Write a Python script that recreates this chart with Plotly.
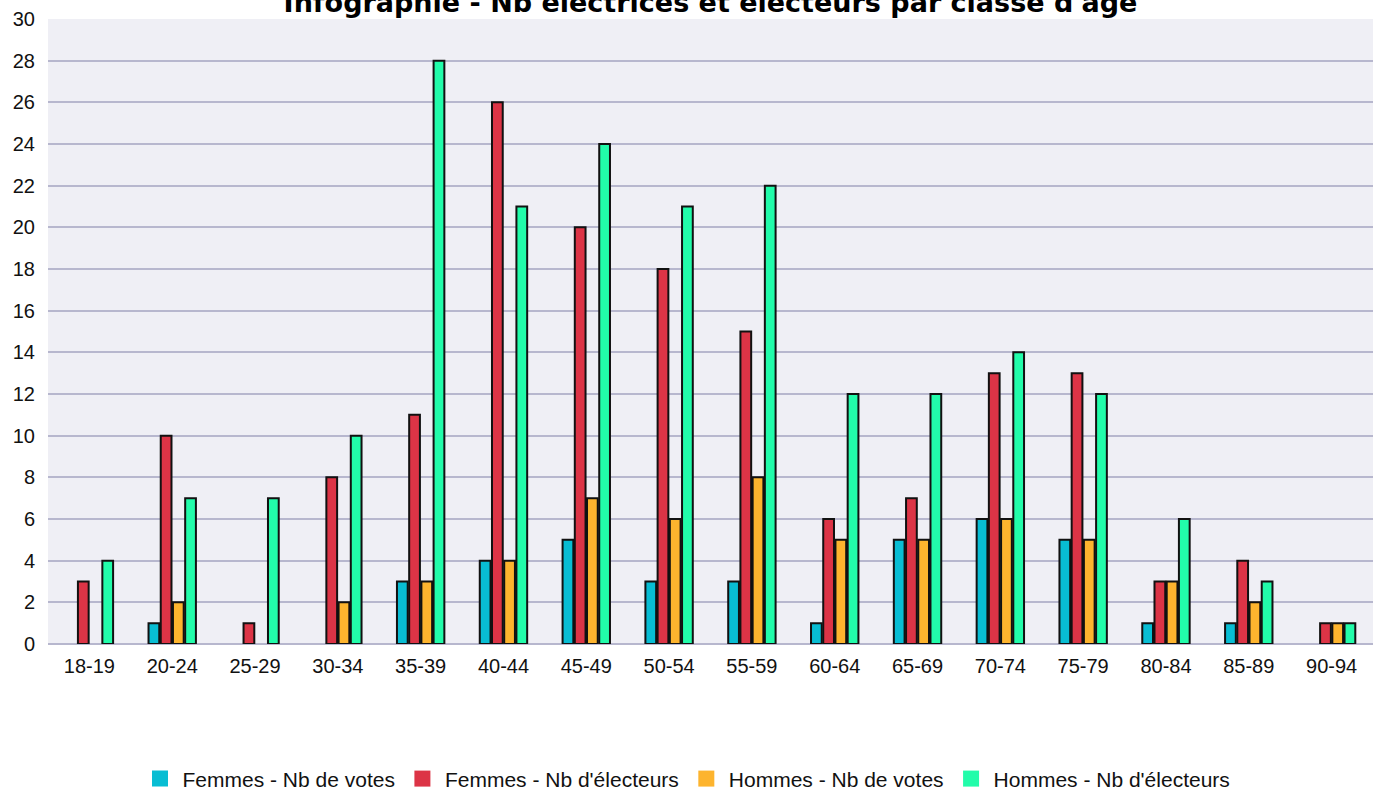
import plotly.graph_objects as go

# Age brackets
age_classes = ["18-19", "20-24", "25-29", "30-34", "35-39", "40-44", "45-49", "50-54",
               "55-59", "60-64", "65-69", "70-74", "75-79", "80-84", "85-89", "90-94"]

# Counts per bracket
femmes_votes = [0, 1, 0, 0, 3, 4, 5, 3, 3, 1, 5, 6, 5, 1, 1, 0]
femmes_electeurs = [3, 10, 1, 8, 11, 26, 20, 18, 15, 6, 7, 13, 13, 3, 4, 1]
hommes_votes = [0, 2, 0, 2, 3, 4, 7, 6, 8, 5, 5, 6, 5, 3, 2, 1]
hommes_electeurs = [4, 7, 7, 10, 28, 21, 24, 21, 22, 12, 12, 14, 12, 6, 3, 1]

series_names = ["Femmes - Nb de votes", "Femmes - Nb d'électeurs",
                "Hommes - Nb de votes", "Hommes - Nb d'électeurs"]
series_values = [femmes_votes, femmes_electeurs, hommes_votes, hommes_electeurs]
series_colors = ["#08bdd3", "#dc3446", "#fdb42e", "#22fcaa"]

y_ticks = list(range(0, 31, 2))

fig = go.Figure()

for name, vals, color in zip(series_names, series_values, series_colors):
    # empty brackets are left blank rather than drawn as flat outlines
    shown = [v if v != 0 else None for v in vals]
    fig.add_trace(go.Bar(
        x=age_classes, y=shown, name=name, legendgroup=name, showlegend=False,
        marker=dict(color=color, line=dict(color="#111111", width=2)),
        hoverinfo="x+y+name",
    ))

# plain coloured squares for the legend entries
for name, color in zip(series_names, series_colors):
    fig.add_trace(go.Scatter(
        x=[None], y=[None], mode="markers", name=name, legendgroup=name,
        marker=dict(symbol="square", size=16, color=color, line=dict(width=0)),
    ))

fig.update_layout(
    width=1373, height=790,
    margin=dict(l=48, r=0, t=19, b=146),
    barmode="group", bargap=0.41, bargroupgap=0.12,
    plot_bgcolor="#efeff5", paper_bgcolor="#ffffff",
    font=dict(family="Liberation Sans, Arial, sans-serif", size=20, color="#111111"),
    title=dict(
        text="Infographie - Nb électrices et électeurs par classe d'âge",
        x=0.5, xref="paper", y=0.997, yref="container", yanchor="middle",
        font=dict(family="DejaVu Sans, Verdana, sans-serif", size=27, color="#000000", weight="bold"),
    ),
    legend=dict(
        orientation="h", x=0.5, xanchor="center", xref="container",
        y=0.014, yanchor="middle", yref="container",
        font=dict(size=21, color="#111111"),
        itemwidth=35, traceorder="normal",
    ),
    showlegend=True,
)

fig.update_xaxes(
    type="category", showgrid=False, zeroline=False, showline=False,
    ticks="", tickfont=dict(size=20), ticklabelstandoff=8, tickangle=0,
)
fig.update_yaxes(
    range=[0, 30], tickvals=y_ticks, showgrid=True, gridcolor="#b7b7ce", gridwidth=2,
    zeroline=True, zerolinecolor="#b7b7ce", zerolinewidth=2,
    showline=False, ticks="", tickfont=dict(size=20), ticklabelstandoff=12,
)

fig.write_html("out.html")
